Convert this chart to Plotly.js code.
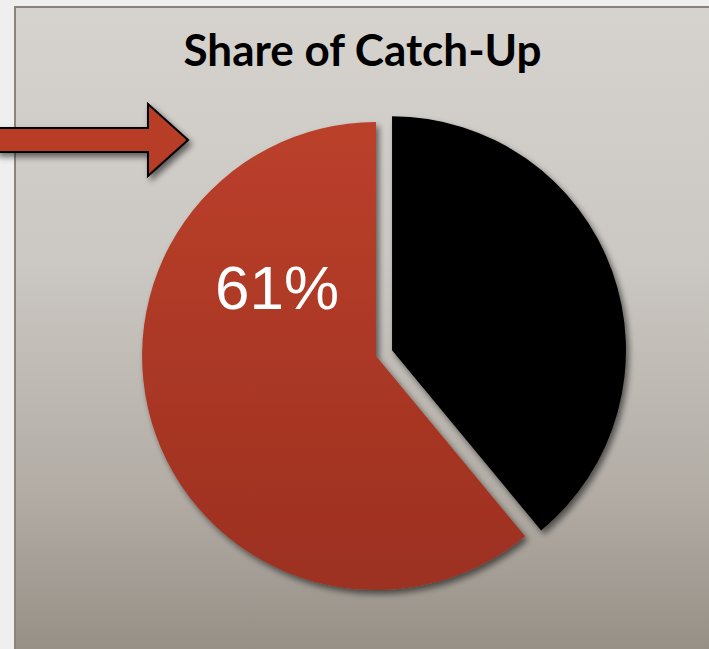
<!DOCTYPE html>
<html>
<head>
<meta charset="utf-8">
<script src="https://cdn.plot.ly/plotly-3.0.1.min.js"></script>
<style>
  html, body { margin: 0; padding: 0; width: 709px; height: 649px; overflow: hidden; background: #efefef; }
  #panel {
    position: absolute; left: 14px; top: 6px; right: 0; bottom: 0;
    border-left: 2px solid #8a837c; border-top: 2px solid #8a837c;
    background: linear-gradient(to bottom, #d6d3cf 0%, #cbc7c2 40%, #b3ada6 75%, #979087 100%);
  }
  #chart { position: absolute; left: 0; top: 0; width: 709px; height: 649px; }
</style>
</head>
<body>
<div id="panel"></div>
<div id="chart"></div>
<script>
const categories = ["Other", "Catch-Up"];
const shares = [39, 61];
const sliceColors = ["#000000", "#ae3825"];
const pulls = [0.073, 0];
const labelText = shares[1] + "%";
const titleText = "Share of Catch-Up";

const W = 709, H = 649;
const px = (x) => x / W;
const py = (y) => 1 - y / H;

const arrowPts = [[-4,128],[148,128],[148,104],[188,140],[148,176],[148,152],[-4,152]];
const arrowPath = "M" + arrowPts.map(p => px(p[0]).toFixed(4) + "," + py(p[1]).toFixed(4)).join(" L") + " Z";

const data = [{
  type: "pie",
  labels: categories,
  values: shares,
  sort: false,
  direction: "clockwise",
  rotation: 0,
  pull: pulls,
  marker: { colors: sliceColors, line: { width: 0 } },
  textinfo: "none",
  hoverinfo: "label+percent",
  showlegend: false,
  domain: { x: [0.1763, 0.8843], y: [0.0647, 0.8382] }
}];

const layout = {
  width: W, height: H,
  margin: { l: 0, r: 0, t: 0, b: 0 },
  paper_bgcolor: "rgba(0,0,0,0)",
  plot_bgcolor: "rgba(0,0,0,0)",
  showlegend: false,
  title: {
    text: "<b>" + titleText + "</b>",
    x: 0.5113, xanchor: "center",
    y: py(51), yanchor: "middle",
    font: { family: "Lato, 'Open Sans', sans-serif", size: 44, color: "#000000" }
  },
  annotations: [{
    text: labelText,
    xref: "paper", yref: "paper",
    x: px(277), y: py(287), xanchor: "center", yanchor: "middle",
    showarrow: false,
    font: { family: "'Liberation Sans', Arial, sans-serif", size: 62, color: "#ffffff" }
  }],
  shapes: [{
    type: "path", xref: "paper", yref: "paper",
    path: arrowPath,
    fillcolor: "#b83c28",
    line: { color: "#000000", width: 2 }
  }]
};

Plotly.newPlot("chart", data, layout, { displayModeBar: false, staticPlot: true }).then(() => {
  const svg = document.querySelector("#chart .main-svg");
  const ns = "http://www.w3.org/2000/svg";
  let defs = svg.querySelector("defs");
  if (!defs) { defs = document.createElementNS(ns, "defs"); svg.insertBefore(defs, svg.firstChild); }
  defs.insertAdjacentHTML("beforeend",
    '<filter id="dshadow" x="-20%" y="-20%" width="140%" height="140%">' +
      '<feGaussianBlur in="SourceAlpha" stdDeviation="3"/>' +
      '<feOffset dx="3" dy="4" result="ob"/>' +
      '<feComponentTransfer><feFuncA type="linear" slope="0.55"/></feComponentTransfer>' +
      '<feMerge><feMergeNode/><feMergeNode in="SourceGraphic"/></feMerge>' +
    '</filter>' +
    '<linearGradient id="redgrad" gradientUnits="userSpaceOnUse" x1="0" y1="122" x2="0" y2="590">' +
      '<stop offset="0" stop-color="#bb402b"/><stop offset="1" stop-color="#9c3020"/>' +
    '</linearGradient>');
  document.querySelectorAll("#chart .slice").forEach(g => g.setAttribute("filter", "url(#dshadow)"));
  const slices = document.querySelectorAll("#chart .slice path.surface");
  if (slices[1]) slices[1].style.fill = "url(#redgrad)";
  document.querySelectorAll("#chart .shapelayer path").forEach(p => p.setAttribute("filter", "url(#dshadow)"));
});
</script>
</body>
</html>
